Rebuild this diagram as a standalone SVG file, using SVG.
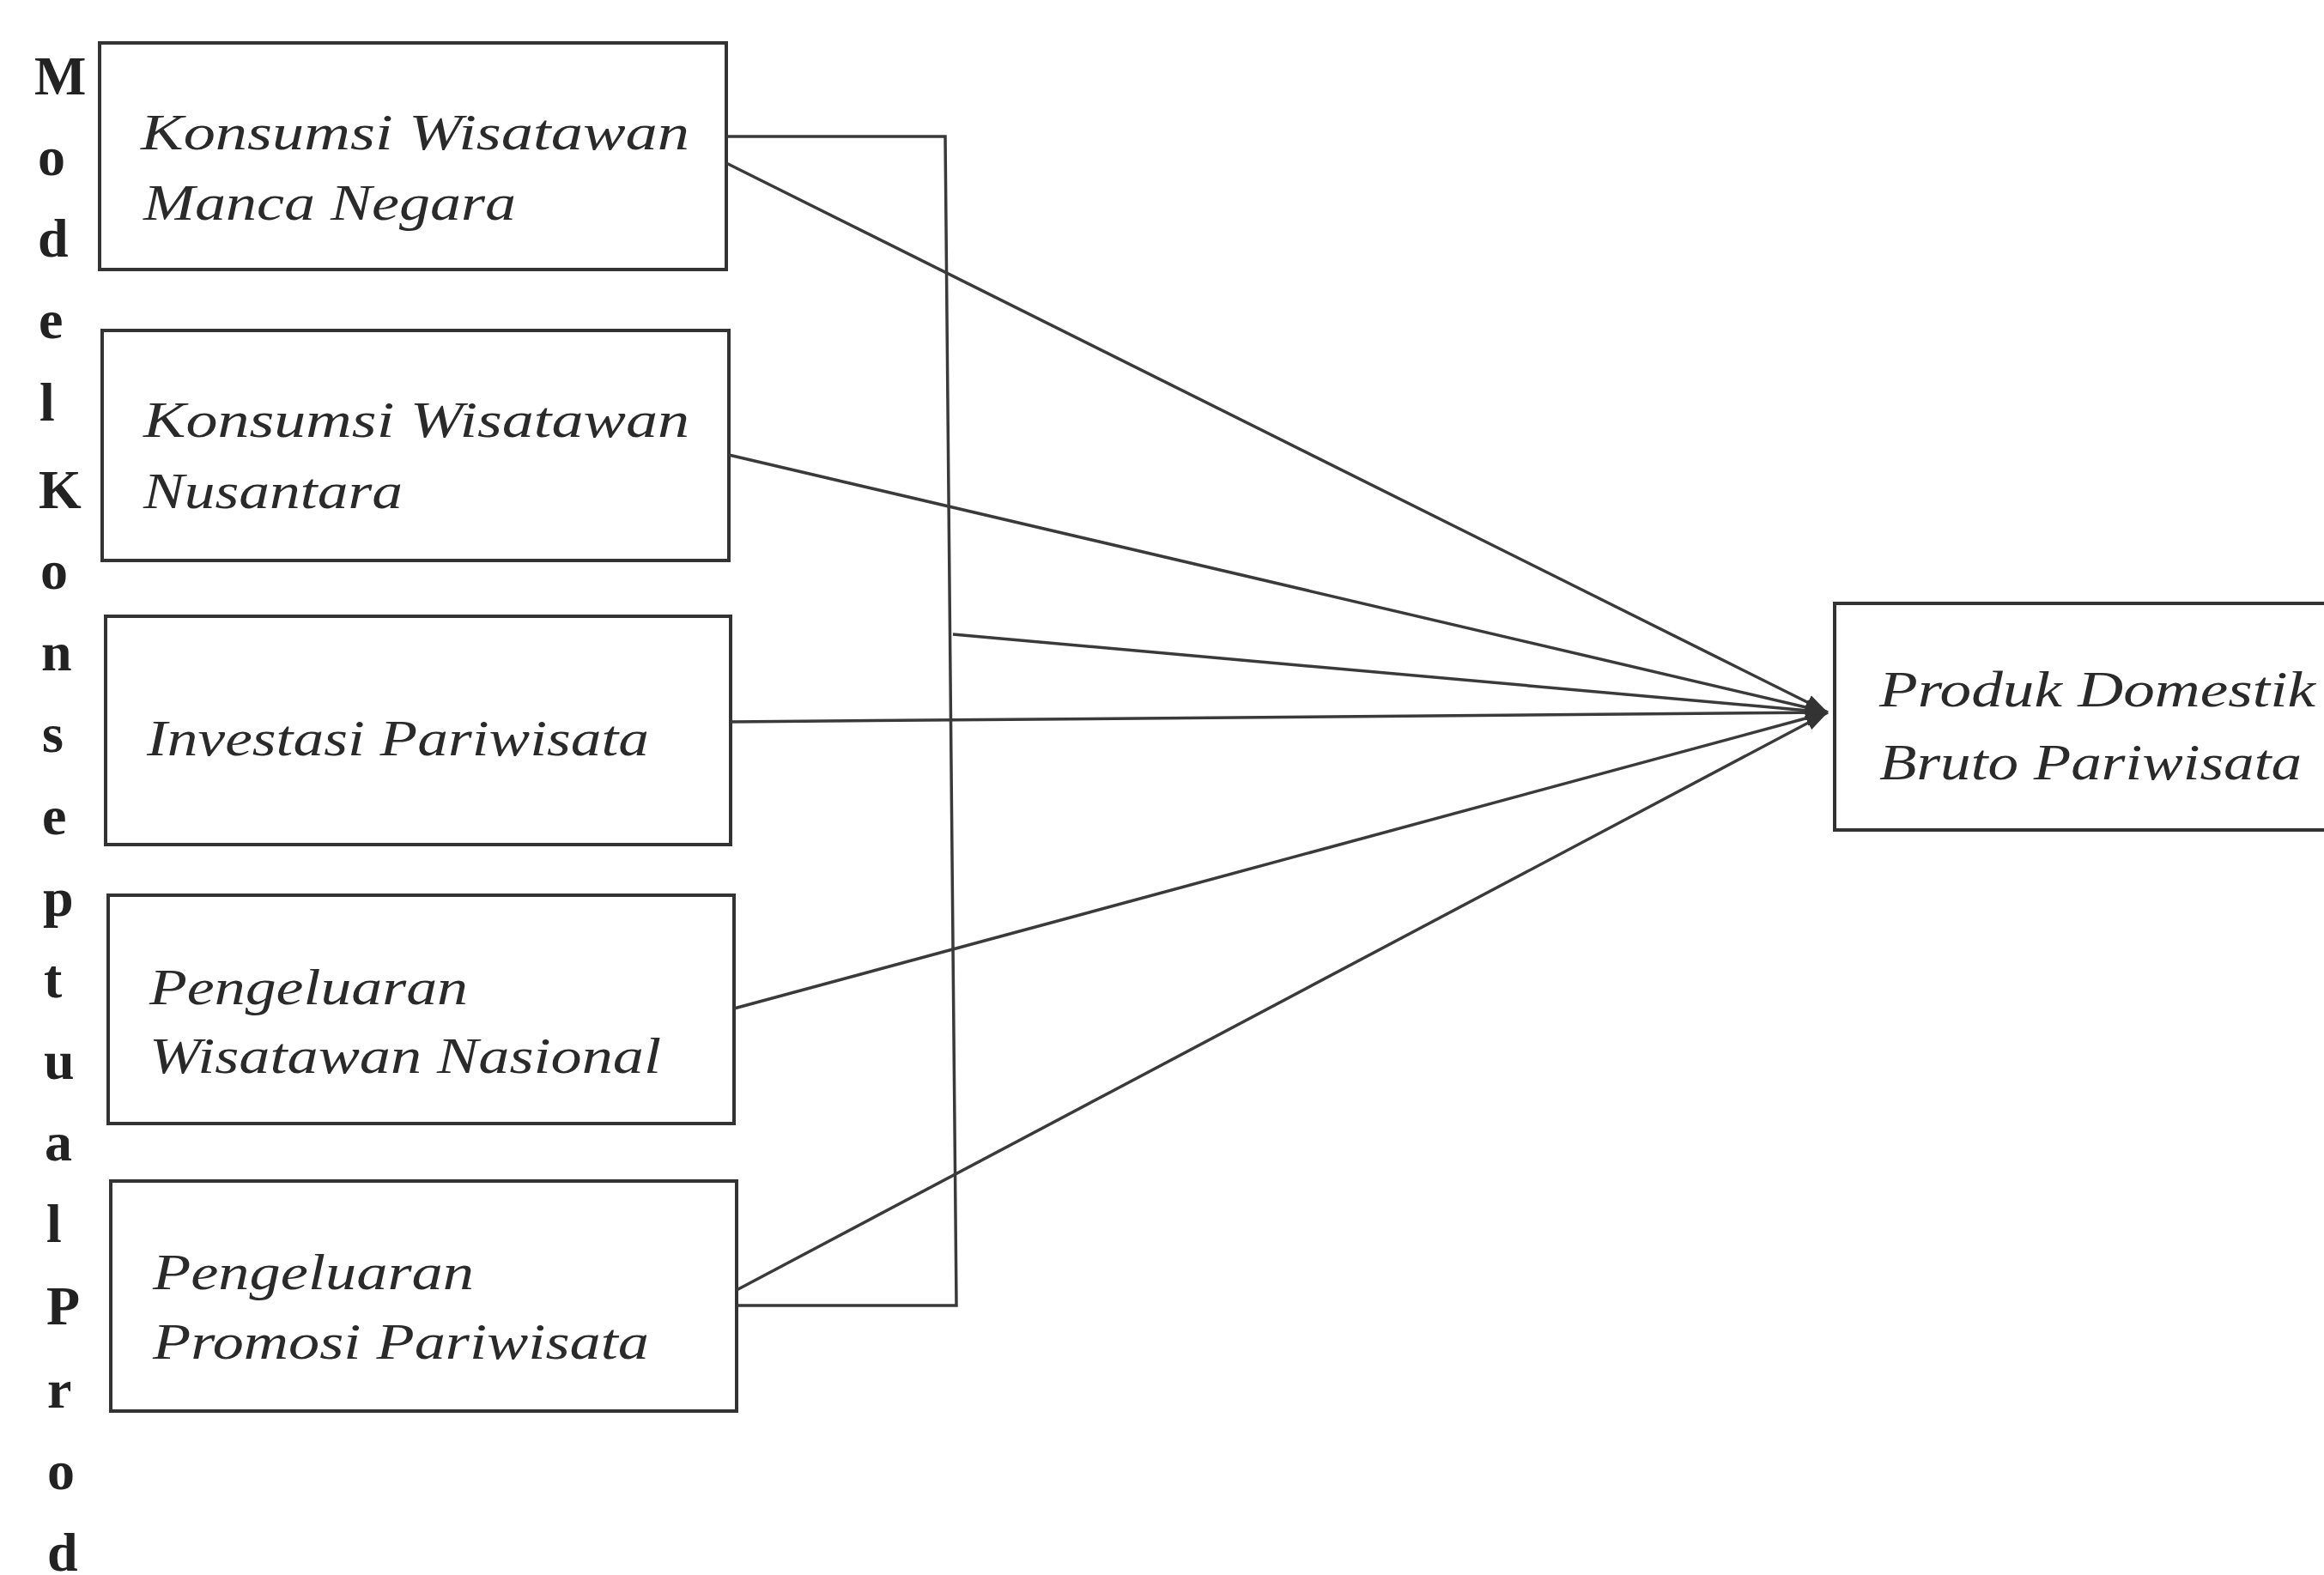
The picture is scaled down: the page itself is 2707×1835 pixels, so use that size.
<svg xmlns="http://www.w3.org/2000/svg" width="2707" height="1835" viewBox="0 0 2707 1835">
<style>
.box{fill:#fff;stroke:#333;stroke-width:4}
.lbl{font-family:"Liberation Serif",serif;font-style:italic;font-size:60px;fill:#2a2a2a}
.vert{font-family:"Liberation Serif",serif;font-weight:bold;font-size:64px;fill:#222}
.ln{fill:none;stroke:#3a3a3a;stroke-width:3.5}
</style>
<defs>
<marker id="ah" markerUnits="userSpaceOnUse" markerWidth="30" markerHeight="24" refX="26" refY="12" orient="auto">
<path d="M0,3 L26,12 L0,21 Z" fill="#333"/>
</marker>
</defs>
<rect width="2707" height="1835" fill="#fff"/>
<g id="title">
<text class="vert"><tspan x="40" y="110">M</tspan><tspan x="44" y="204">o</tspan><tspan x="44" y="299">d</tspan><tspan x="45" y="394">e</tspan><tspan x="46" y="490">l</tspan><tspan x="45" y="592">K</tspan><tspan x="47" y="686">o</tspan><tspan x="48" y="781">n</tspan><tspan x="49" y="876">s</tspan><tspan x="49" y="972">e</tspan><tspan x="50" y="1067">p</tspan><tspan x="51" y="1162">t</tspan><tspan x="51" y="1257">u</tspan><tspan x="52" y="1352">a</tspan><tspan x="54" y="1447">l</tspan><tspan x="54" y="1543">P</tspan><tspan x="55" y="1640">r</tspan><tspan x="55" y="1735">o</tspan><tspan x="55" y="1830">d</tspan></text>
</g>
<g id="n1"><rect class="box" x="116" y="50" width="730" height="264"/>
<text class="lbl" x="164" y="174" textLength="639" lengthAdjust="spacingAndGlyphs">Konsumsi Wisatawan</text>
<text class="lbl" x="167" y="256" textLength="434" lengthAdjust="spacingAndGlyphs">Manca Negara</text></g>
<g id="n2"><rect class="box" x="119" y="385" width="730" height="268"/>
<text class="lbl" x="167" y="509" textLength="636" lengthAdjust="spacingAndGlyphs">Konsumsi Wisatawan</text>
<text class="lbl" x="167" y="592" textLength="302" lengthAdjust="spacingAndGlyphs">Nusantara</text></g>
<g id="n3"><rect class="box" x="123" y="718" width="728" height="266"/>
<text class="lbl" x="171" y="880" textLength="585" lengthAdjust="spacingAndGlyphs">Investasi Pariwisata</text></g>
<g id="n4"><rect class="box" x="126" y="1043" width="729" height="266"/>
<text class="lbl" x="174" y="1170" textLength="371" lengthAdjust="spacingAndGlyphs">Pengeluaran</text>
<text class="lbl" x="174" y="1250" textLength="596" lengthAdjust="spacingAndGlyphs">Wisatawan Nasional</text></g>
<g id="n5"><rect class="box" x="129" y="1376" width="729" height="268"/>
<text class="lbl" x="178" y="1502" textLength="374" lengthAdjust="spacingAndGlyphs">Pengeluaran</text>
<text class="lbl" x="178" y="1583" textLength="578" lengthAdjust="spacingAndGlyphs">Promosi Pariwisata</text></g>
<g id="n6"><rect class="box" x="2137" y="703" width="620" height="264"/>
<text class="lbl" x="2189" y="823" textLength="508" lengthAdjust="spacingAndGlyphs">Produk Domestik</text>
<text class="lbl" x="2189" y="908" textLength="492" lengthAdjust="spacingAndGlyphs">Bruto Pariwisata</text></g>
<g id="connectors">
<polyline class="ln" points="846,159 1101,159 1114,1521 858,1521"/>
<line class="ln" x1="1110" y1="739" x2="2129" y2="830" marker-end="url(#ah)"/>
<line class="ln" x1="846" y1="190" x2="2129" y2="830" marker-end="url(#ah)"/>
<line class="ln" x1="849" y1="530" x2="2129" y2="830" marker-end="url(#ah)"/>
<line class="ln" x1="851" y1="841" x2="2129" y2="830" marker-end="url(#ah)"/>
<line class="ln" x1="855" y1="1175" x2="2129" y2="830" marker-end="url(#ah)"/>
<line class="ln" x1="858" y1="1503" x2="2129" y2="830" marker-end="url(#ah)"/>
</g>
</svg>
